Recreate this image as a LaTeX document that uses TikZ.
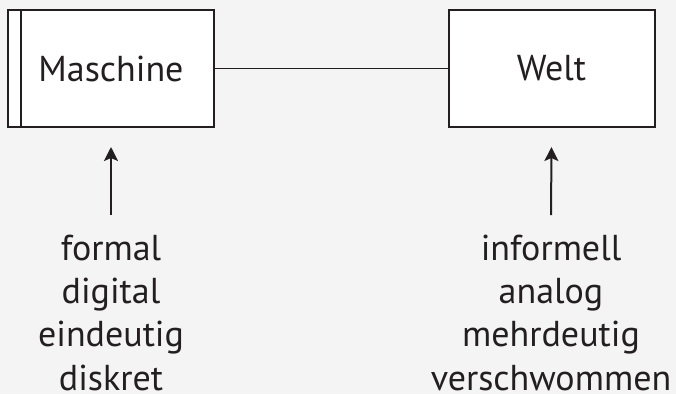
\documentclass[tikz,border=0pt]{standalone}
\usepackage{fontspec}
\setmainfont{PT Sans}
\usetikzlibrary{arrows.meta}
\definecolor{bg}{HTML}{F4F4F4}
\definecolor{ink}{HTML}{231F20}
\begin{document}
\begin{tikzpicture}[x=1pt,y=-1pt,
  box/.style={draw=ink, line width=2pt, fill=white, minimum width=206pt, minimum height=117pt, inner sep=0pt, text=ink},
  lbl/.style={text=ink, anchor=base, inner sep=0pt},
  link/.style={draw=ink, line width=1.5pt},
  up/.style={draw=ink, line width=2pt, -{Stealth[length=14pt,width=14pt,inset=3pt]}},
  font=\fontsize{36}{43}\selectfont]
\fill[bg] (0,0) rectangle (676,394);
\useasboundingbox (0,0) rectangle (676,394);
\node[box] (m) at (111,68.5) {Maschine};
\node[box] (w) at (551.5,68.5) {Welt};
\draw[ink, line width=2pt] ([xshift=14pt]m.north west) -- ([xshift=14pt]m.south west);
\draw[link] (m.east) -- (w.east -| w.west);
\node[lbl] (l1) at (111,260) {formal};
\node[lbl] (l2) at (111,303.3) {digital};
\node[lbl] (l3) at (111,346.6) {eindeutig};
\node[lbl] (l4) at (111,390) {diskret};
\node[lbl] (r1) at (551,260) {informell};
\node[lbl] (r2) at (551,303.3) {analog};
\node[lbl] (r3) at (551,346.6) {mehrdeutig};
\node[lbl] (r4) at (551,390) {verschwommen};
\coordinate (la) at (111,215);
\coordinate (ra) at (551,215);
\draw[up] (la) -- ([yshift=-19pt]m.south);
\draw[up] (ra) -- ([yshift=-19pt]w.south);
\end{tikzpicture}
\end{document}
